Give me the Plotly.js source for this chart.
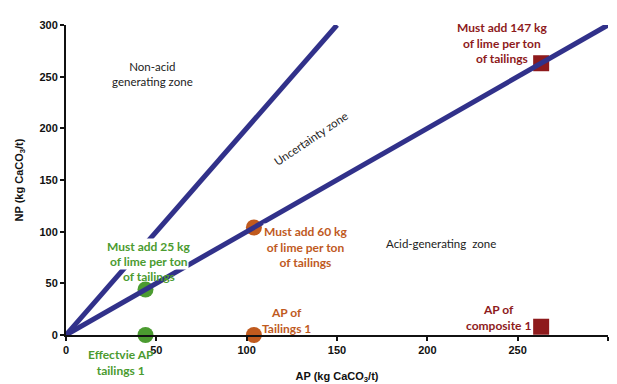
<!DOCTYPE html>
<html>
<head>
<meta charset="utf-8">
<script src="https://cdn.plot.ly/plotly-3.0.1.min.js"></script>
<style>html,body{margin:0;padding:0;background:#fff;}#chart{width:617px;height:384px;}</style>
</head>
<body>
<div id="chart"></div>
<script>
// Reference ratio lines
const line1AP = [0, 300];
const line1NP = [0, 300];
const line2AP = [0, 150];
const line2NP = [0, 300];

// Samples: [on NP/AP=1 line, on axis]
const greenAP = [44, 44];
const greenNP = [44, 0];
const orangeAP = [104, 104];
const orangeNP = [104, 0];
const redAP = [263, 263];
const redNP = [263, 8];

const xTicks = [0, 50, 100, 150, 200, 250, 300];
const yTicks = [0, 50, 100, 150, 200, 250, 300];

const navy = '#31318a';
const green = '#4b9b30';
const orange = '#c05a1e';
const red = '#8e1a1c';

const traces = [
  {x: greenAP, y: greenNP, mode: 'markers', type: 'scatter', cliponaxis: false,
   marker: {color: green, size: 16, symbol: 'circle'}, hoverinfo: 'skip'},
  {x: orangeAP, y: orangeNP, mode: 'markers', type: 'scatter', cliponaxis: false,
   marker: {color: orange, size: 16, symbol: 'circle'}, hoverinfo: 'skip'},
  {x: redAP, y: redNP, mode: 'markers', type: 'scatter', cliponaxis: false,
   marker: {color: red, size: 16, symbol: 'square'}, hoverinfo: 'skip'},
  {x: line1AP, y: line1NP, mode: 'lines', type: 'scatter', cliponaxis: false,
   line: {color: navy, width: 5}, hoverinfo: 'skip'},
  {x: line2AP, y: line2NP, mode: 'lines', type: 'scatter', cliponaxis: false,
   line: {color: navy, width: 5}, hoverinfo: 'skip'}
];

const aFont = (c) => ({family: 'Lato, "Open Sans", sans-serif', size: 12, color: c, weight: 'bold'});
const zFont = {family: 'Lato, "Open Sans", sans-serif', size: 11.5, color: '#222'};
const lFont = {family: '"Liberation Sans", Arial, sans-serif', size: 9, color: navy, weight: 'bold'};

const ann = (x, y, text, font, extra) => Object.assign({
  xref: 'x', yref: 'y', x: x, y: y, text: text, showarrow: false, font: font,
  xanchor: 'center', yanchor: 'middle', align: 'center'
}, extra || {});

const whiteBg = {bgcolor: '#ffffff', borderpad: 0};

const layout = {
  width: 617, height: 384,
  margin: {l: 66, r: 9, t: 25, b: 49},
  paper_bgcolor: '#fff', plot_bgcolor: '#fff',
  showlegend: false,
  xaxis: {
    range: [0, 300], tickvals: xTicks, ticktext: xTicks.map(String),
    showgrid: false, zeroline: false, showline: true, linecolor: '#111', linewidth: 2,
    ticks: 'outside', ticklen: 4, tickwidth: 2, tickcolor: '#111',
    tickfont: {family: '"Liberation Sans", Arial, sans-serif', size: 11, color: '#111', weight: 'bold'},
    title: {text: 'AP (kg CaCO<sub>3</sub>/t)', standoff: 22,
            font: {family: '"Liberation Sans", Arial, sans-serif', size: 11, color: '#111', weight: 'bold'}}
  },
  yaxis: {
    range: [0, 300], tickvals: yTicks, ticktext: yTicks.map(String),
    showgrid: false, zeroline: false, showline: true, linecolor: '#111', linewidth: 2,
    ticks: 'outside', ticklen: 4, tickwidth: 2, tickcolor: '#111',
    tickfont: {family: '"Liberation Sans", Arial, sans-serif', size: 11, color: '#111', weight: 'bold'},
    title: {text: 'NP (kg CaCO<sub>3</sub>/t)', standoff: 14,
            font: {family: '"Liberation Sans", Arial, sans-serif', size: 11, color: '#111', weight: 'bold'}}
  },
  annotations: [
    ann(47.6, 253, 'Non-acid<br>generating zone', zFont),
    ann(135.5, 190, 'Uncertainty zone', zFont, {textangle: -34}),
    ann(207.5, 89, 'Acid-generating  zone', zFont),
    ann(152, 308, 'NP/AP = 2', lFont),
    ann(282, 303, 'NP/AP = 1', lFont),
    ann(241.3, 282.7, 'Must add 147 kg<br>of lime per ton<br>of tailings', aFont(red)),
    ann(239.6, 16.5, 'AP of<br>composite 1', aFont(red)),
    ann(133, 85, 'Must add 60 kg<br>of lime per ton<br>of tailings', aFont(orange), whiteBg),
    ann(122, 14.5, 'AP of<br>Tailings 1', aFont(orange)),
    ann(46, 85.4, 'Must add 25 kg', aFont(green), whiteBg),
    ann(46, 70.7, 'of lime per ton', aFont(green), whiteBg),
    ann(46, 56.8, 'of tailings', aFont(green)),
    ann(30.4, -0.09, 'Effectvie AP<br>tailings 1', aFont(green), {yref: 'paper'})
  ]
};

Plotly.newPlot('chart', traces, layout, {displayModeBar: false, staticPlot: true});
</script>
</body>
</html>
